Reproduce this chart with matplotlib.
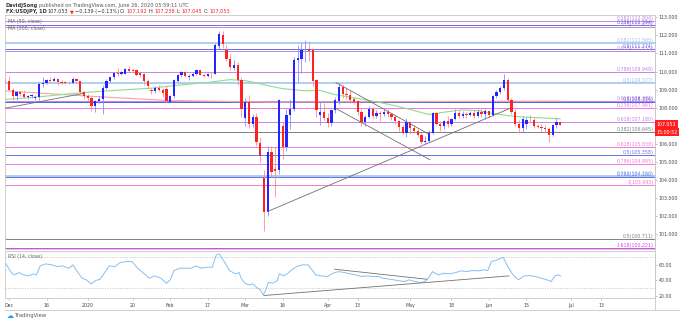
import numpy as np
import pandas as pd
import matplotlib
matplotlib.use('Agg')
import matplotlib.pyplot as plt

plt.rcParams['font.family'] = 'DejaVu Sans'

W, H = 680, 322

# ---------------- data ----------------
holidays = ['2019-12-25', '2020-01-01']
dates = pd.bdate_range('2019-11-29', '2020-07-31')
dates = dates[~dates.isin(pd.to_datetime(holidays))]
n_bars = 149   # Nov 29 2019 -> Jun 26 2020

opens = [109.50, 109.47, 108.98, 108.62, 108.86, 108.77, 108.58, 108.62, 108.56, 108.60,
         109.30, 109.38, 109.55, 109.48, 109.56, 109.44, 109.40, 109.38, 109.36, 109.56,
         109.45, 108.86, 108.62, 108.55, 108.10, 108.36, 108.46, 109.08, 109.48, 109.68,
         109.90, 109.85, 109.88, 110.12, 110.10, 110.10, 109.90, 109.86, 109.45, 108.95,
         108.90, 109.10, 109.00, 109.05, 108.32, 108.62, 109.45, 109.78, 109.98, 109.70,
         109.76, 109.84, 110.06, 109.82, 109.77, 109.86, 109.86, 111.40, 112.05, 111.20,
         110.68, 110.20, 110.36, 109.52, 107.40, 108.30, 107.10, 107.50, 106.05, 104.10,
         102.23, 105.55, 104.60, 104.54, 106.97, 105.83, 107.58, 107.95, 110.62, 110.72,
         111.17, 111.25, 111.17, 109.52, 107.60, 107.78, 107.45, 107.15, 107.85, 108.35,
         109.15, 108.78, 108.68, 108.45, 108.35, 107.75, 107.20, 107.50, 107.93, 107.55,
         107.72, 107.62, 107.78, 107.62, 107.48, 107.25, 106.90, 106.62, 107.18, 106.88,
         106.72, 106.50, 106.08, 106.15, 106.62, 107.68, 107.12, 106.98, 107.25, 107.10,
         107.35, 107.72, 107.55, 107.62, 107.60, 107.72, 107.55, 107.75, 107.62, 107.80,
         107.60, 108.62, 108.88, 109.08, 109.55, 108.40, 107.75, 107.10, 106.85, 107.10,
         107.33, 107.30, 107.00, 106.95, 106.88, 106.82, 106.50, 107.05, 107.192]
highs = [109.62, 109.73, 109.08, 108.90, 108.92, 108.95, 108.72, 108.78, 108.70, 109.44,
         109.70, 109.60, 109.70, 109.68, 109.62, 109.54, 109.48, 109.48, 109.68, 109.62,
         109.47, 108.92, 108.73, 108.62, 108.42, 108.62, 109.25, 109.58, 109.70, 109.95,
         110.22, 110.05, 110.18, 110.29, 110.20, 110.16, 110.00, 109.93, 109.56, 109.10,
         109.18, 109.26, 109.08, 109.20, 108.70, 109.60, 109.85, 110.02, 110.02, 109.85,
         110.00, 110.14, 110.10, 109.88, 109.90, 110.00, 111.58, 112.23, 112.22, 111.45,
         110.95, 110.65, 110.50, 109.70, 108.52, 108.70, 107.65, 107.70, 106.40, 104.55,
         105.90, 105.90, 105.83, 108.50, 107.20, 107.90, 108.50, 110.80, 111.45, 111.60,
         111.72, 111.70, 111.30, 109.60, 108.32, 108.25, 107.70, 107.95, 108.60, 109.38,
         109.25, 109.10, 108.98, 108.60, 108.45, 107.90, 107.60, 108.08, 108.05, 107.85,
         107.80, 107.90, 107.90, 107.72, 107.60, 107.30, 107.05, 107.40, 107.22, 107.05,
         106.80, 106.60, 106.45, 106.75, 107.76, 107.75, 107.25, 107.30, 107.55, 107.45,
         107.90, 107.85, 107.80, 107.75, 107.80, 107.88, 107.90, 107.95, 107.90, 107.85,
         108.70, 108.95, 109.20, 109.85, 109.65, 108.55, 107.90, 107.30, 107.55, 107.50,
         107.60, 107.40, 107.10, 107.08, 107.05, 106.95, 107.10, 107.45, 107.238]
lows = [109.38, 108.95, 108.43, 108.42, 108.64, 108.52, 108.50, 108.56, 108.45, 108.45,
        109.15, 109.32, 109.42, 109.45, 109.27, 109.32, 109.32, 109.32, 109.35, 109.36,
        108.80, 108.50, 108.38, 107.84, 107.77, 108.24, 107.65, 109.05, 109.42, 109.60,
        109.75, 109.80, 109.85, 110.00, 110.02, 109.75, 109.72, 109.28, 109.05, 108.73,
        108.80, 108.90, 108.57, 108.30, 108.30, 108.55, 109.40, 109.70, 109.68, 109.55,
        109.70, 109.80, 109.78, 109.70, 109.72, 109.65, 109.85, 111.25, 111.30, 110.60,
        110.10, 110.10, 109.25, 107.50, 106.96, 106.85, 106.90, 105.90, 105.00, 101.18,
        102.00, 104.20, 103.06, 104.30, 105.15, 105.60, 106.80, 107.80, 109.40, 109.90,
        110.50, 110.60, 109.20, 107.50, 107.05, 107.30, 106.92, 107.00, 107.70, 108.20,
        108.55, 108.50, 108.25, 108.20, 107.60, 106.98, 107.00, 107.40, 107.45, 107.45,
        107.25, 107.55, 107.50, 107.30, 107.10, 106.70, 106.55, 106.35, 106.55, 106.60,
        106.38, 105.98, 106.00, 106.10, 106.55, 107.05, 106.70, 106.80, 106.95, 107.00,
        107.30, 107.45, 107.45, 107.45, 107.55, 107.45, 107.50, 107.50, 107.35, 107.40,
        107.55, 108.55, 108.75, 109.00, 108.30, 107.62, 107.00, 106.58, 106.65, 106.80,
        107.20, 106.85, 106.85, 106.70, 106.65, 106.08, 106.45, 106.85, 107.045]
closes = [109.47, 108.98, 108.62, 108.86, 108.77, 108.58, 108.62, 108.72, 108.60, 109.30,
          109.38, 109.55, 109.48, 109.56, 109.40, 109.38, 109.36, 109.34, 109.58, 109.45,
          108.86, 108.62, 108.55, 108.10, 108.36, 108.46, 109.08, 109.50, 109.68, 109.90,
          109.85, 110.00, 110.12, 110.05, 110.05, 109.82, 109.82, 109.45, 109.18, 108.90,
          109.10, 108.98, 108.80, 108.35, 108.62, 109.52, 109.78, 109.98, 109.75, 109.76,
          109.84, 110.06, 109.82, 109.77, 109.86, 109.84, 111.45, 112.10, 111.55, 110.70,
          110.25, 110.36, 109.52, 107.90, 108.30, 107.10, 107.50, 106.10, 105.30, 102.20,
          105.55, 104.44, 104.50, 108.40, 105.80, 107.58, 107.95, 110.62, 110.75, 111.17,
          111.20, 111.15, 109.48, 107.86, 107.76, 107.45, 107.15, 107.85, 108.40, 109.15,
          108.78, 108.68, 108.45, 108.30, 107.75, 107.20, 107.50, 107.93, 107.55, 107.72,
          107.62, 107.78, 107.62, 107.48, 107.25, 106.90, 106.62, 107.18, 106.88, 106.72,
          106.50, 106.08, 106.15, 106.62, 107.68, 107.12, 106.98, 107.25, 107.10, 107.35,
          107.72, 107.55, 107.62, 107.60, 107.72, 107.55, 107.75, 107.62, 107.80, 107.60,
          108.62, 108.88, 109.08, 109.55, 108.40, 107.75, 107.10, 106.85, 107.35, 107.33,
          107.30, 107.00, 106.95, 106.88, 106.82, 106.50, 107.05, 107.19, 107.053]

# moving averages (bar position, price)
ma50_x = [0, 9, 20, 28, 38.5, 46.5, 55, 60, 64.5, 70, 74, 80, 84, 88, 95.5, 100, 104.5,
          108.5, 113, 117.5, 122, 126.5, 130, 135.5, 141, 148]
ma50_y = [108.45, 108.60, 108.82, 108.94, 109.07, 109.25, 109.42, 109.55, 109.48, 109.22,
          109.05, 108.93, 108.95, 108.72, 108.45, 108.28, 108.08, 107.87, 107.62, 107.76,
          107.88, 107.82, 107.68, 107.52, 107.45, 107.38]
ma200_x = [0, 21, 43, 70, 100, 148]
ma200_y = [108.93, 108.65, 108.40, 108.30, 108.33, 108.36]

# fibonacci levels (label, price, colour)
fib_labels = ['0.382(112.804)', '0.5(112.470)', '0.236(112.594)', '0.382(111.565)',
              '0.618(111.155)', '0.5(111.274)', '0.786(109.949)', '0.5(109.377)',
              '0.618(108.381)', '0.5(108.316)', '0.236(107.961)', '0.618(107.180)',
              '0.382(106.645)', '0.618(105.838)', '0.5(105.358)', '0.786(104.895)',
              '0.786(104.160)', '0.618(104.233)', '1(103.693)', '0.5(100.711)',
              '1.618(100.221)']
fib_prices = [112.804, 112.470, 112.594, 111.565, 111.155, 111.274, 109.949, 109.377,
              108.381, 108.316, 107.961, 107.180, 106.645, 105.838, 105.358, 104.895,
              104.160, 104.233, 103.693, 100.711, 100.221]
fib_colors = ['#c585e0', '#c585e0', '#6870e0', '#9cc0f0', '#c585e0', '#6870e0', '#c585e0',
              '#9cc0f0', '#c585e0', '#5560e0', '#f07ad8', '#c585e0', '#808080', '#f07ad8',
              '#6870e0', '#f07ad8', '#6870e0', '#9cc0f0', '#f07ad8', '#808080', '#e040f0']

# trend lines (x0, y0, x1, y1)
trend_main = [(0, 107.97, 20.7, 108.78),
              (70, 102.25, 134.5, 107.95),
              (88.2, 109.39, 112.8, 106.55),
              (88.2, 107.95, 113.3, 105.11)]

# RSI(14)
rsi_x = [0.1, 1.7, 2.5, 3.7, 4.9, 6.3, 7.3, 8.3, 9.3, 10.8, 12.4, 13.9, 15.4, 17.0, 18.0,
         19.0, 20.5, 21.6, 22.9, 24.1, 25.3, 26.7, 27.7, 29.2, 30.7, 32.3, 33.8, 35.3,
         36.9, 38.4, 39.9, 41.5, 43.0, 44.0, 45.0, 46.6, 48.1, 49.6, 50.9, 52.2, 53.7,
         55.2, 56.3, 57.1, 57.8, 58.8, 59.8, 61.4, 62.4, 62.9, 63.9, 65.0, 66.0, 67.0,
         68.0, 68.8, 69.5, 70.2, 71.3, 72.6, 73.1, 74.3, 75.4, 76.4, 77.7, 79.2, 80.8,
         81.8, 82.8, 84.3, 85.9, 87.4, 88.9, 90.5, 92.0, 93.5, 95.0, 96.6, 98.1, 99.6,
         100.7, 102.7, 104.7, 106.3, 107.8, 109.3, 110.9, 111.9, 112.9, 113.9, 115.5,
         117.0, 118.5, 120.1, 121.6, 123.1, 124.6, 126.2, 127.7, 128.7, 129.7, 131.3,
         132.8, 133.8, 135.4, 136.9, 138.4, 139.9, 141.5, 143.0, 144.5, 145.6, 146.6,
         147.6, 148.1]
rsi_y = [62.3, 49.4, 47.2, 50.2, 47.2, 45.9, 48.5, 47.2, 58.8, 61.4, 60.1, 58.0, 58.8, 55.8,
         60.1, 52.8, 42.9, 40.8, 35.6, 39.9, 41.6, 51.5, 58.8, 58.0, 63.1, 64.4, 64.4,
         55.8, 49.4, 42.9, 45.9, 42.9, 36.5, 40.8, 52.8, 55.8, 55.8, 55.8, 58.8, 55.8,
         57.1, 57.1, 73.0, 74.3, 68.7, 61.4, 52.8, 48.5, 50.2, 42.9, 36.5, 34.3, 35.6,
         31.3, 27.9, 21.4, 27.9, 37.8, 36.5, 39.9, 48.5, 45.9, 49.4, 53.7, 58.0, 60.1,
         60.1, 53.7, 47.2, 45.9, 45.1, 49.4, 51.5, 50.2, 48.5, 47.2, 45.1, 45.9, 45.1,
         45.1, 42.9, 41.6, 39.9, 38.6, 40.8, 38.6, 37.3, 38.6, 42.9, 51.5, 47.2, 49.4,
         48.5, 50.2, 52.4, 51.5, 52.8, 52.4, 53.7, 52.8, 64.4, 66.6, 70.0, 60.1, 47.2,
         40.8, 45.9, 46.3, 45.1, 42.9, 40.8, 38.6, 45.9, 47.2, 45.9]
trend_rsi = [(87.9, 54.5, 112.4, 41.6),
             (69.0, 20.6, 134.3, 45.9)]

tick_dates = ['2019-12-02', '2019-12-16', '2020-01-02', '2020-01-20', '2020-02-03',
              '2020-02-17', '2020-03-02', '2020-03-16', '2020-04-01', '2020-04-13',
              '2020-05-01', '2020-05-18', '2020-06-01', '2020-06-15', '2020-07-01',
              '2020-07-13']
tick_labels = ['Dec', '16', '2020', '20', 'Feb', '17', 'Mar', '16', 'Apr', '13', 'May',
               '18', 'Jun', '15', 'Jul', '13']

# ---------------- figure ----------------
UP, DN = '#2424ff', '#ff2222'
TXT = '#4a4a4a'
BORDER = '#c8c8c8'
FS = 3.4


def box(l, t, r, b):
    return [l / W, 1 - b / H, (r - l) / W, (b - t) / H]


fig = plt.figure(figsize=(W / 100, H / 100), dpi=100)
ax = fig.add_axes(box(5, 15, 655, 249))
axr = fig.add_axes(box(5, 251, 655, 298))
ov = fig.add_axes([0, 0, 1, 1], zorder=-1)
ov.set_xlim(0, W); ov.set_ylim(H, 0); ov.axis('off')

o, h, l, c = map(np.array, (opens, highs, lows, closes))
x = np.arange(n_bars)
up = c >= o
cols = np.where(up, UP, DN)
wick_cols = np.where(up, '#8a8cff', '#ff8c8c')
ax.vlines(x, l, h, colors=wick_cols, lw=0.6, zorder=3)
body = np.maximum(np.abs(c - o), 0.02)
ax.bar(x, body, bottom=np.minimum(o, c), width=0.6, color=cols, lw=0, zorder=4)

# fib levels
for lab, p, col in zip(fib_labels, fib_prices, fib_colors):
    lw = 1.1 if col == '#9cc0f0' else 0.7
    ax.axhline(p, color=col, lw=lw, zorder=1)
    ax.text(0.998, p, lab, transform=ax.get_yaxis_transform(), ha='right', va='bottom',
            fontsize=FS, color=col, zorder=6)

ax.plot(ma200_x, ma200_y, color='#f3a6a0', lw=0.8, zorder=2)
ax.plot(ma50_x, ma50_y, color='#8fdc8f', lw=0.8, zorder=2)
for x0, y0, x1, y1 in trend_main:
    ax.plot([x0, x1], [y0, y1], color='#707070', lw=0.6, zorder=5)

ax.text(0.005, 0.972, 'MA (50, close)', transform=ax.transAxes, fontsize=FS, color='#666666',
        va='center')
ax.text(0.005, 0.942, 'MA (200, close)', transform=ax.transAxes, fontsize=FS, color='#666666',
        va='center')

ax.set_xlim(-0.07, 173.3)
ax.set_ylim(100.17, 113.13)
ax.set_xticks([])
ax.yaxis.tick_right()
ax.set_yticks(np.arange(101, 114))
ax.set_yticklabels(['%.3f' % v for v in np.arange(101, 114)])
ax.tick_params(axis='y', labelsize=FS, labelcolor=TXT, length=1.5, width=0.4,
               color='#999999', pad=1.2)

# last price boxes
ax.annotate('107.053', xy=(1, closes[-1]), xycoords=ax.get_yaxis_transform(),
            xytext=(1.2, 0.3), textcoords='offset points', fontsize=FS, color='white',
            va='center', ha='left',
            bbox=dict(boxstyle='square,pad=0.3', fc='#ff1f1f', ec='none'))
ax.annotate('15:00:52', xy=(1, closes[-1]), xycoords=ax.get_yaxis_transform(),
            xytext=(1.2, -5.4), textcoords='offset points', fontsize=FS, color='white',
            va='center', ha='left',
            bbox=dict(boxstyle='square,pad=0.3', fc='#ff1f1f', ec='none'))

# RSI pane
axr.plot(rsi_x, rsi_y, color='#86bff2', lw=0.7)
for lvl in (70, 30):
    axr.axhline(lvl, color='#b4b4b4', lw=0.5, ls=(0, (1.5, 2)))
for x0, y0, x1, y1 in trend_rsi:
    axr.plot([x0, x1], [y0, y1], color='#707070', lw=0.6)
axr.text(0.005, 0.88, 'RSI (14, close)', transform=axr.transAxes, fontsize=FS,
         color='#666666', va='center')
axr.set_xlim(ax.get_xlim())
axr.set_ylim(17.4, 78)
axr.yaxis.tick_right()
axr.set_yticks([20, 40, 60])
axr.set_yticklabels(['20.00', '40.00', '60.00'])
axr.tick_params(axis='y', labelsize=FS, labelcolor=TXT, length=1.5, width=0.4,
                color='#999999', pad=1.2)
pos = [dates.get_loc(pd.Timestamp(d)) for d in tick_dates]
axr.set_xticks(pos)
axr.set_xticklabels(tick_labels)
axr.tick_params(axis='x', labelsize=FS, labelcolor=TXT, length=1.5, width=0.4,
                color='#999999', pad=2)

for a in (ax, axr):
    for s in a.spines.values():
        s.set_color(BORDER)
        s.set_linewidth(0.6)

# outer frame lines
ov.plot([655, 655], [15, 310], color=BORDER, lw=0.6)
ov.plot([5, 680], [310, 310], color=BORDER, lw=0.6)


# header
def chain(parts, x0, y0, fs):
    prev = None
    for txt, col, wt in parts:
        if prev is None:
            prev = ov.text(x0, y0, txt, color=col, fontsize=fs, fontweight=wt, va='center',
                           ha='left')
        else:
            prev = ov.annotate(txt, xy=(1, 0.5), xycoords=prev, xytext=(0.8, 0),
                               textcoords='offset points', color=col, fontsize=fs,
                               fontweight=wt, va='center', ha='left')


chain([('DavidJSong', '#333333', 'bold'),
       ('published on TradingView.com, June 26, 2020 05:59:11 UTC', '#555555', 'normal')],
      6, 5, 3.6)
chain([('FX:USDJPY, 1D', '#333333', 'bold'), ('107.053', '#333333', 'normal'),
       ('\u25bc', '#ff2222', 'normal'), ('\u22120.139 (\u22120.13%)', '#333333', 'normal'),
       ('O:', '#333333', 'normal'), ('107.192', '#ff2222', 'normal'),
       ('H:', '#333333', 'normal'), ('107.238', '#ff2222', 'normal'),
       ('L:', '#333333', 'normal'), ('107.045', '#ff2222', 'normal'),
       ('C:', '#333333', 'normal'), ('107.053', '#ff2222', 'normal')],
      6, 11.5, 3.6)

# footer logo
ov.text(7, 316, '\u2601', color='#2196f3', fontsize=5, va='center', ha='left')
ov.text(15, 316, 'TradingView', color='#555555', fontsize=3.8, va='center', ha='left')

fig.savefig('out.png', dpi=100, facecolor='white')
